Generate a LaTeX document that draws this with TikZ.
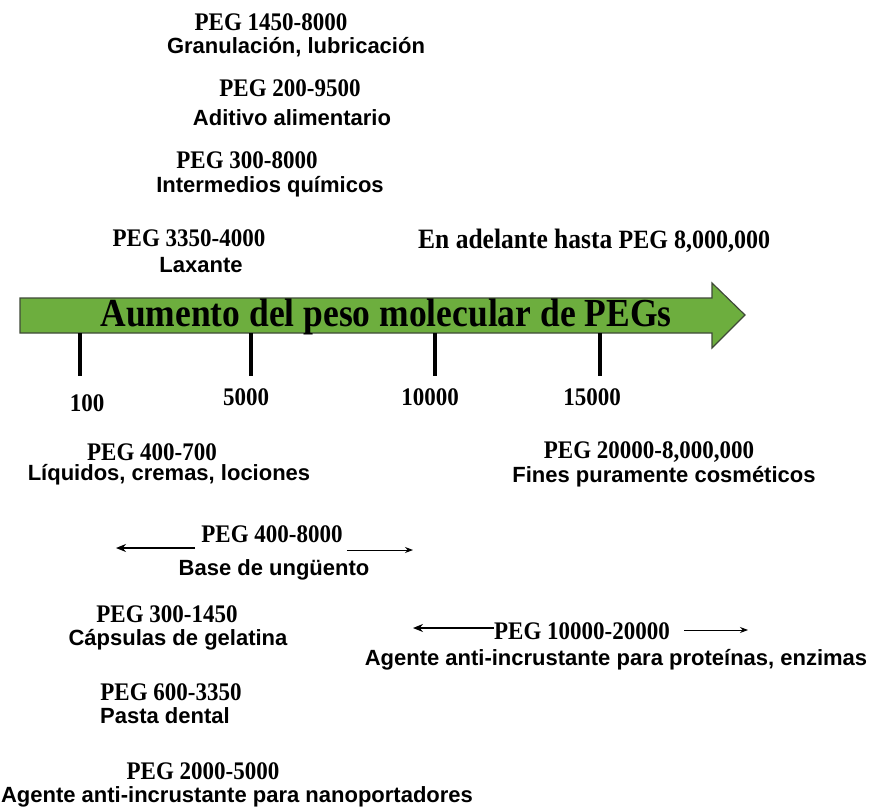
\documentclass[tikz,border=0pt]{standalone}
\usepackage{fontspec}
\setmainfont{Liberation Serif}
\setsansfont{Liberation Sans}
\usetikzlibrary{arrows.meta}
\definecolor{arrowgreen}{HTML}{6DAE3E}
\definecolor{arrowedge}{HTML}{3F4A38}
\tikzset{
  pegtext/.style={inner sep=0pt, yscale=1.1, font=\rmfamily\bfseries\fontsize{23}{26}\selectfont},
  usetext/.style={inner sep=0pt, font=\sffamily\bfseries\fontsize{22}{25}\selectfont},
  tickline/.style={line width=4pt},
  ticklabel/.style={inner sep=0pt, yscale=1.1, font=\rmfamily\bfseries\fontsize{23}{26}\selectfont},
  spanarrow/.style={line width=1.3pt, -{Stealth[length=10pt,width=8pt]}},
  spanthin/.style={line width=1pt, -{Stealth[length=8pt,width=6pt]}}
}
\begin{document}
\begin{tikzpicture}[x=1pt,y=-1pt]
\useasboundingbox (0,0) rectangle (876,808);

% main axis arrow
\fill[arrowgreen, draw=arrowedge, line width=1.2pt]
  (20,298) -- (712,298) -- (712,283) -- (745,315) -- (712,348) -- (712,333) -- (20,333) -- cycle;
\node[inner sep=0pt, font=\rmfamily\bfseries\fontsize{35.5}{38}\selectfont, yscale=1.12] (title) at (386,317) {Aumento del peso molecular de PEGs};

% ticks
\coordinate (t1a) at (80,333);  \coordinate (t1b) at (80,376);
\coordinate (t2a) at (251,333); \coordinate (t2b) at (251,376);
\coordinate (t3a) at (435,333); \coordinate (t3b) at (435,376);
\coordinate (t4a) at (600,333); \coordinate (t4b) at (600,376);
\draw[tickline] (t1a) -- (t1b);
\draw[tickline] (t2a) -- (t2b);
\draw[tickline] (t3a) -- (t3b);
\draw[tickline] (t4a) -- (t4b);
\node[ticklabel] (l100) at (87,403) {100};
\node[ticklabel] (l5000) at (246,397) {5000};
\node[ticklabel] (l10000) at (430,397) {10000};
\node[ticklabel] (l15000) at (592,397) {15000};

% uses above the axis
\node[pegtext] (p1) at (271,22) {PEG 1450-8000};
\node[usetext] (u1) at (296,47) {Granulación, lubricación};
\node[pegtext] (p2) at (290,88) {PEG 200-9500};
\node[usetext] (u2) at (292,118) {Aditivo alimentario};
\node[pegtext] (p3) at (247,160) {PEG 300-8000};
\node[usetext] (u3) at (270,187) {Intermedios químicos};
\node[pegtext] (p4) at (189,238) {PEG 3350-4000};
\node[usetext] (u4) at (201,265) {Laxante};
\node[pegtext, anchor=west, font=\rmfamily\bfseries\fontsize{25.5}{28}\selectfont] (p5) at (418,241) {En adelante hasta {\fontsize{24}{27}\selectfont PEG 8,000,000}};

% uses below the axis
\node[pegtext] (p6) at (152,452) {PEG 400-700};
\node[usetext] (u6) at (169,475) {Líquidos, cremas, lociones};
\node[pegtext] (p7) at (649,452) {PEG 20000-8,000,000};
\node[usetext] (u7) at (664,477) {Fines puramente cosméticos};

\node[pegtext] (p8) at (272,534) {PEG 400-8000};
\node[usetext] (u8) at (274,570) {Base de ungüento};
\coordinate (p8l) at (116,548);
\coordinate (p8r) at (413,550);
\draw[spanarrow] (p8.west |- p8l) ++(-6,0) -- (p8l);
\draw[spanthin] (p8.east |- p8r) ++(4,0) -- (p8r);

\node[pegtext] (p9) at (167,614) {PEG 300-1450};
\node[usetext] (u9) at (178,640) {Cápsulas de gelatina};

\node[pegtext] (p10) at (582,631) {PEG 10000-20000};
\node[usetext] (u10) at (616,660) {Agente anti-incrustante para proteínas, enzimas};
\coordinate (p10l) at (413,628);
\coordinate (p10r) at (748,630);
\draw[spanarrow] (p10.west |- p10l) -- (p10l);
\draw[spanthin] (p10.east |- p10r) ++(14,0) -- (p10r);

\node[pegtext] (p11) at (171,692) {PEG 600-3350};
\node[usetext] (u11) at (165,716) {Pasta dental};
\node[pegtext] (p12) at (203,771) {PEG 2000-5000};
\node[usetext] (u12) at (237,797) {Agente anti-incrustante para nanoportadores};
\end{tikzpicture}
\end{document}
